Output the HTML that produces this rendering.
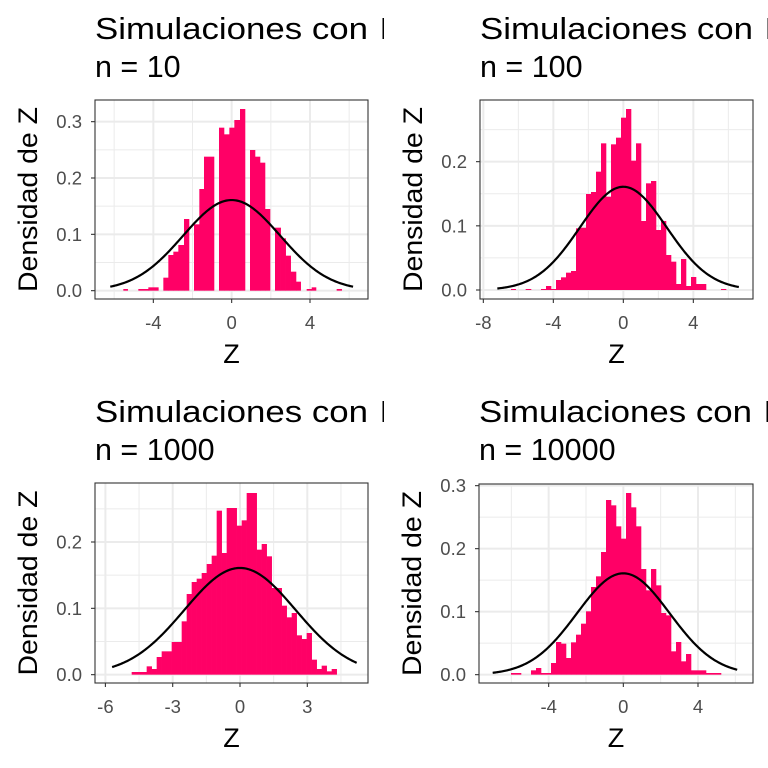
<!DOCTYPE html>
<html><head><meta charset="utf-8"><style>
html,body{margin:0;padding:0;background:#fff;}
svg{display:block;font-family:"Liberation Sans",Arial,sans-serif;}
</style></head><body>
<svg id="s" width="768" height="768" viewBox="0 0 768 768" xmlns="http://www.w3.org/2000/svg">
<defs>
<clipPath id="cl"><rect x="0" y="0" width="384" height="768"/></clipPath>
<clipPath id="cr"><rect x="384" y="0" width="384" height="768"/></clipPath>
</defs>
</svg>
<script>
const NS="http://www.w3.org/2000/svg";
const S=document.getElementById('s');
function el(t,a,p){const e=document.createElementNS(NS,t);for(const k in a)e.setAttribute(k,a[k]);(p||S).appendChild(e);return e;}
function txt(x,y,s,a,p){const e=el('text',Object.assign({x:x,y:y},a),p);e.textContent=s;return e;}
const panels=[
{ox:90,oy:95,box:[95,100,368,299],z0:425,k:58.75,base:587,u:169,
 xt:[-4,0,4],xm:[-6,-2,2,6],xlab:["-4","0","4"],yt:[0,0.1,0.2,0.3],ym:[0.05,0.15,0.25],
 cx:[-6.2,6.2],n:"n = 10",ty:39,clip:"cl",
 bars:[[100,113,582],[145,175,582],[175,205,577],[220,235,548],[235,250,480],[250,265,470],[265,282,450],[282,297,372],[312,328,388],[328,342,282],[342,372,185],[387,402,98],[402,418,118],[418,433,98],[433,450,75],[450,465,42],[480,495,165],[495,510,185],[510,525,203],[525,540,342],[555,572,398],[572,587,430],[587,602,482],[602,618,530],[618,632,560],[650,665,582],[665,678,577],[740,755,582]]},
{ox:475,oy:95,box:[480,100,753,299],z0:445,k:52.5,base:585,u:192.5,
 xt:[-8,-4,0,4],xm:[-6,-2,2,6],xlab:["-8","-4","0","4"],yt:[0,0.1,0.2],ym:[0.05,0.15,0.25],
 cx:[-7.2,6.6],n:"n = 100",ty:39,clip:"cr",
 bars:[[108,122,582],[152,168,582],[198,213,582],[213,228,573],[228,243,582],[243,258,555],[258,273,547],[273,288,533],[288,303,528],[303,318,400],[318,333,398],[333,348,297],[348,363,291],[363,378,230],[378,393,145],[393,408,305],[408,423,148],[423,438,128],[438,453,68],[453,468,42],[468,483,197],[483,498,145],[498,513,378],[513,528,265],[528,543,258],[543,558,405],[558,573,378],[573,588,480],[588,603,500],[603,618,567],[618,633,492],[633,648,573],[648,663,546],[663,693,567],[738,753,582]]},
{ox:90,oy:478,box:[95,483,368,683],z0:450,k:67.3,base:590,u:199,
 xt:[-6,-3,0,3],xm:[-4.5,-1.5,1.5,4.5],xlab:["-6","-3","0","3"],yt:[0,0.1,0.2],ym:[0.05,0.15,0.25],
 cx:[-5.7,5.2],n:"n = 1000",ty:422,clip:"cl",
 bars:[[125,170,582],[170,185,565],[185,200,573],[200,215,537],[215,245,520],[245,275,492],[275,290,430],[290,305,348],[305,320,312],[320,335,302],[335,350,285],[350,365,258],[365,380,233],[380,395,98],[395,410,225],[410,440,90],[440,455,143],[455,470,127],[470,500,45],[500,515,215],[515,530,198],[530,545,235],[545,575,330],[575,590,383],[590,605,418],[605,620,405],[620,635,472],[635,650,483],[650,665,465],[665,680,545],[680,695,573],[695,710,563],[710,725,580],[725,740,573]]},
{ox:475,oy:478,box:[479,484,753,683],z0:445,k:56,base:590,u:189,
 xt:[-4,0,4],xm:[-6,-2,2,6],xlab:["-4","0","4"],yt:[0,0.1,0.2,0.3],ym:[0.05,0.15,0.25],
 cx:[-7,6.1],n:"n = 10000",ty:422,clip:"cr",
 bars:[[108,138,585],[168,183,577],[183,198,570],[198,228,585],[228,243,555],[243,258,492],[258,273,497],[273,288,540],[288,303,493],[303,318,470],[318,333,437],[333,348,400],[348,363,327],[363,378,295],[378,393,222],[393,408,66],[408,423,82],[423,438,145],[438,453,182],[453,468,45],[468,483,88],[483,498,145],[498,513,273],[513,528,337],[528,543,273],[543,558,322],[558,573,405],[573,588,412],[588,603,520],[603,618,492],[618,633,550],[633,648,528],[648,693,577],[693,738,585]]}
];
const sd=2.48;
panels.forEach(P=>{
 const X=v=>P.ox+(P.z0+v*P.k)/3, Y=d=>P.oy+(P.base-d*P.u*10)/3;
 const [l,t,r,b]=P.box;
 el('rect',{x:l,y:t,width:r-l,height:b-t,fill:'#fff'});
 P.xm.forEach(v=>el('line',{x1:X(v),x2:X(v),y1:t,y2:b,stroke:'#ebebeb','stroke-width':1}));
 P.ym.forEach(v=>{if(Y(v)>t)el('line',{x1:l,x2:r,y1:Y(v),y2:Y(v),stroke:'#ebebeb','stroke-width':1});});
 P.xt.forEach(v=>el('line',{x1:X(v),x2:X(v),y1:t,y2:b,stroke:'#ebebeb','stroke-width':2}));
 P.yt.forEach(v=>el('line',{x1:l,x2:r,y1:Y(v),y2:Y(v),stroke:'#ebebeb','stroke-width':2}));
 P.bars.forEach(([a,c,h])=>el('rect',{x:P.ox+a/3,y:P.oy+h/3,width:(c-a)/3+0.3,height:(P.base-h)/3,fill:'#ff0066'}));
 let d='';for(let i=0;i<=200;i++){const v=P.cx[0]+(P.cx[1]-P.cx[0])*i/200;const f=Math.exp(-v*v/(2*sd*sd))/(sd*Math.sqrt(2*Math.PI));d+=(i?'L':'M')+X(v).toFixed(2)+','+Y(f).toFixed(2);}
 el('path',{d:d,fill:'none',stroke:'#000','stroke-width':2.2});
 el('rect',{x:l,y:t,width:r-l,height:b-t,fill:'none',stroke:'#333','stroke-width':1.1});
 P.xt.forEach((v,i)=>{el('line',{x1:X(v),x2:X(v),y1:b,y2:b+4,stroke:'#333','stroke-width':1.1});txt(X(v),b+30,P.xlab[i],{'text-anchor':'middle','font-size':18.5,fill:'#4d4d4d'});});
 P.yt.forEach(v=>{el('line',{x1:l-4,x2:l,y1:Y(v),y2:Y(v),stroke:'#333','stroke-width':1.1});txt(l-13,Y(v)+6.5,v.toFixed(1),{'text-anchor':'end','font-size':18.5,fill:'#4d4d4d'});});
 txt((l+r)/2,b+64,'Z',{'text-anchor':'middle','font-size':27,fill:'#000'});
 const cy=(t+b)/2;
 txt(0,0,'Densidad de Z',{'text-anchor':'middle','font-size':27,textLength:185,lengthAdjust:'spacingAndGlyphs',fill:'#000',transform:`translate(${l-58},${cy}) rotate(-90)`});
 const g=el('g',{'clip-path':`url(#${P.clip})`});
 txt(l,P.ty,'Simulaciones con',{'font-size':30.5,textLength:273,lengthAdjust:'spacingAndGlyphs',fill:'#000'},g);
 txt(l+285,P.ty,'Normal',{'font-size':30.5,fill:'#000'},g);
 txt(l,P.ty+38,P.n,{'font-size':30.5,fill:'#000'},g);
});
</script>
</body></html>
